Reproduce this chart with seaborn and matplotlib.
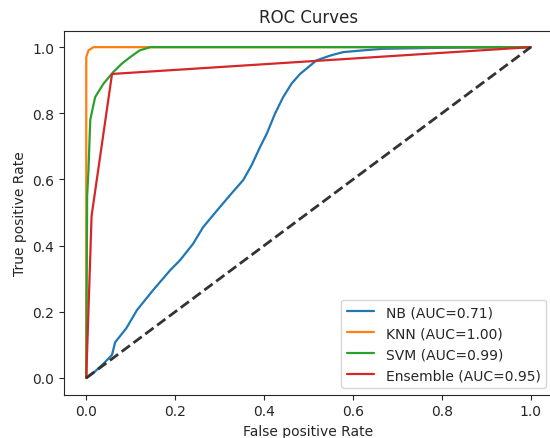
import numpy as np
import pandas as pd
import matplotlib
matplotlib.use("Agg")
import matplotlib.pyplot as plt
import seaborn as sns

# ROC points
nb_fpr = [0.0, 0.02, 0.04, 0.058, 0.065, 0.09, 0.114, 0.15, 0.189, 0.211, 0.24,
          0.263, 0.294, 0.325, 0.353, 0.372, 0.391, 0.406, 0.425, 0.443, 0.462,
          0.481, 0.518, 0.55, 0.578, 0.62, 0.667, 0.8, 1.0]
nb_tpr = [0.0, 0.02, 0.045, 0.07, 0.108, 0.15, 0.205, 0.265, 0.326, 0.356, 0.405,
          0.456, 0.506, 0.555, 0.598, 0.643, 0.698, 0.738, 0.8, 0.849, 0.89,
          0.919, 0.96, 0.975, 0.985, 0.99, 0.995, 0.998, 1.0]

knn_fpr = [0.0, 0.0, 0.005, 0.016, 1.0]
knn_tpr = [0.0, 0.97, 0.99, 1.0, 1.0]

svm_fpr = [0.0, 0.002, 0.005, 0.009, 0.02, 0.039, 0.061, 0.08, 0.099, 0.12, 0.144, 1.0]
svm_tpr = [0.0, 0.55, 0.628, 0.78, 0.849, 0.89, 0.925, 0.95, 0.97, 0.99, 1.0, 1.0]

ens_fpr = [0.0, 0.012, 0.058, 1.0]
ens_tpr = [0.0, 0.49, 0.919, 1.0]

labels = ["NB (AUC=0.71)", "KNN (AUC=1.00)", "SVM (AUC=0.99)", "Ensemble (AUC=0.95)"]
colors = sns.color_palette("tab10", 4)

curves = [(nb_fpr, nb_tpr), (knn_fpr, knn_tpr), (svm_fpr, svm_tpr), (ens_fpr, ens_tpr)]

sns.set_style("ticks")
plt.rcParams['font.family'] = ['DejaVu Sans']

fig = plt.figure(figsize=(5.5, 4.39), dpi=100)
ax = fig.add_axes([0.1164, 0.099, 0.889, 0.829])

for (fpr, tpr), lab, col in zip(curves, labels, colors):
    df = pd.DataFrame({"fpr": fpr, "tpr": tpr})
    sns.lineplot(data=df, x="fpr", y="tpr", sort=False, estimator=None,
                 color=col, label=lab, linewidth=1.6, ax=ax)

ax.plot([0, 1], [0, 1], "k--", linewidth=2, color="#333333")

ax.set_xlim(-0.05, 1.05)
ax.set_ylim(-0.05, 1.05)
ax.set_xticks([0, 0.2, 0.4, 0.6, 0.8, 1.0])
ax.set_yticks([0, 0.2, 0.4, 0.6, 0.8, 1.0])
ax.set_xlabel("False positive Rate")
ax.set_ylabel("True positive Rate")
ax.set_title("ROC Curves")
ax.legend(loc="lower right")
for s in ax.spines.values():
    s.set_visible(True)

fig.savefig("out.png", dpi=100)
